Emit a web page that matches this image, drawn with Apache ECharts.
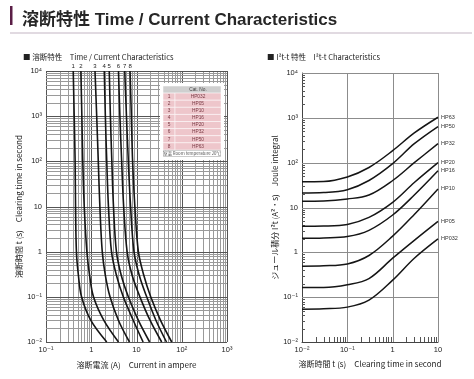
<!DOCTYPE html>
<html><head><meta charset="utf-8">
<script src="https://cdn.jsdelivr.net/npm/echarts@6/dist/echarts.min.js"></script>
<style>html,body{margin:0;padding:0;background:#fff}#c{width:474px;height:379px}</style>
</head><body><div id="c"></div>
<script>
const FONT = '"Liberation Sans", "DejaVu Sans", "Noto Sans CJK JP", sans-serif';
const JFONT = '"Noto Sans CJK JP", "Liberation Sans", sans-serif';

// ---- Left chart: Time / Current characteristics (current in A at each clearing time in s)
const tcTimes = [10000, 1000, 100, 10, 1, 0.3, 0.1, 0.03, 0.01];
const tcHP032 = [0.40, 0.42, 0.44, 0.45, 0.47, 0.52, 0.61, 0.98, 2.2];
const tcHP05  = [0.59, 0.62, 0.65, 0.70, 0.80, 0.92, 1.12, 1.9, 4.0];
const tcHP10  = [1.21, 1.32, 1.43, 1.55, 1.75, 2.05, 2.6, 4.0, 7.0];
const tcHP16  = [1.94, 2.05, 2.2, 2.4, 2.8, 3.6, 5.1, 8.5, 14];
const tcHP20  = [2.5, 2.65, 2.85, 3.1, 3.6, 4.6, 6.6, 11, 19.5];
const tcHP32  = [4.0, 4.3, 4.7, 5.2, 6.2, 8.0, 11.9, 20, 36];
const tcHP50  = [5.5, 6.0, 6.6, 7.4, 8.8, 11.5, 16.8, 27, 46];
const tcHP63  = [7.2, 7.7, 8.2, 9.2, 11, 14.5, 20.6, 34, 60];
const curveNumbers = ['1', '2', '3', '4', '5', '6', '7', '8'];
const catNos = ['HP032', 'HP05', 'HP10', 'HP16', 'HP20', 'HP32', 'HP50', 'HP63'];
const tcCurves = [tcHP032, tcHP05, tcHP10, tcHP16, tcHP20, tcHP32, tcHP50, tcHP63];

// ---- Right chart: I2t characteristics (A^2 s at each clearing time in s)
const i2tTimes = [0.01, 0.03, 0.1, 0.3, 1, 3, 10];
const i2tHP63  = [37.5, 38, 48, 78, 185, 460, 1030];
const i2tHP50  = [21, 21.5, 25, 40, 95, 265, 640];
const i2tHP32  = [13.8, 14, 15.5, 19, 40, 100, 265];
const i2tHP20  = [3.8, 3.85, 4.2, 6.0, 13, 36, 100];
const i2tHP16  = [2.05, 2.1, 2.25, 3.1, 6.8, 19, 66];
const i2tHP10  = [0.49, 0.5, 0.55, 0.85, 2.3, 7, 26];
const i2tHP05  = [0.164, 0.165, 0.19, 0.26, 0.74, 1.85, 4.9];
const i2tHP032 = [0.054, 0.055, 0.06, 0.086, 0.24, 0.74, 2.0];
const i2tNames = ['HP63', 'HP50', 'HP32', 'HP20', 'HP16', 'HP10', 'HP05', 'HP032'];
const i2tCurves = [i2tHP63, i2tHP50, i2tHP32, i2tHP20, i2tHP16, i2tHP10, i2tHP05, i2tHP032];

// ---- tick labels (by decade exponent)
const timeTickLabels = {'-2': '10⁻²', '-1': '10⁻¹', '0': '1', '1': '10', '2': '10²', '3': '10³', '4': '10⁴'};
const currentTickLabels = {'-1': '10⁻¹', '0': '1', '1': '10', '2': '10²', '3': '10³'};
const i2tTimeTickLabels = {'-2': '10⁻²', '-1': '10⁻¹', '0': '1', '1': '10'};
const minorFactors = [1, 2, 3, 4, 5, 6, 7, 8, 9];

function decadeValues(e0, e1) {
  const out = [];
  for (let e = e0; e < e1; e++) minorFactors.forEach(k => out.push(+(k * Math.pow(10, e)).toPrecision(6)));
  out.push(Math.pow(10, e1));
  return out;
}
function isDecade(v) { const l = Math.log10(v); return Math.abs(l - Math.round(l)) < 1e-6; }
function fmt(map) { return v => { const k = String(Math.round(Math.log10(v))); return map[k] !== undefined ? map[k] : ''; }; }

function gridLines(gi, values, dir, range, styleFn) {
  return {
    type: 'custom', xAxisIndex: gi, yAxisIndex: gi, silent: true, z: 1, clip: false,
    data: values.map(v => dir === 'v' ? [v, range[0]] : [range[0], v]),
    renderItem: function (params, api) {
      const v = dir === 'v' ? api.value(0) : api.value(1);
      const a = dir === 'v' ? api.coord([v, range[0]]) : api.coord([range[0], v]);
      const b = dir === 'v' ? api.coord([v, range[1]]) : api.coord([range[1], v]);
      const s = styleFn(v);
      let x1 = a[0], y1 = a[1], x2 = b[0], y2 = b[1];
      if (dir === 'v') { x1 = x2 = Math.round(x1) + 0.5; } else { y1 = y2 = Math.round(y1) + 0.5; }
      return {type: 'line', shape: {x1, y1, x2, y2}, style: {stroke: s.color, lineWidth: s.width}};
    }
  };
}
function tickMarks(gi, values, dir, base, len) {
  return {
    type: 'custom', xAxisIndex: gi, yAxisIndex: gi, silent: true, z: 3, clip: false,
    data: values.map(v => dir === 'x' ? [v, base] : [base, v]),
    renderItem: function (params, api) {
      const p = api.coord([api.value(0), api.value(1)]);
      if (dir === 'x') {
        const x = Math.round(p[0]) + 0.5;
        return {type: 'line', shape: {x1: x, y1: p[1], x2: x, y2: p[1] - len}, style: {stroke: '#555', lineWidth: 1}};
      }
      const y = Math.round(p[1]) + 0.5;
      return {type: 'line', shape: {x1: p[0], y1: y, x2: p[0] + len, y2: y}, style: {stroke: '#555', lineWidth: 1}};
    }
  };
}

const series = [];
// left grid
const leftStyle = v => isDecade(v) ? {color: '#555', width: 1} : {color: '#9a9a9a', width: 1};
series.push(gridLines(0, decadeValues(-1, 3), 'v', [0.01, 10000], leftStyle));
series.push(gridLines(0, decadeValues(-2, 4), 'h', [0.1, 1000], leftStyle));
// right grid (decades only)
const rightStyle = v => ({color: '#8c8c8c', width: 1});
series.push(gridLines(1, [0.1, 1, 10], 'v', [0.01, 10000], rightStyle));
series.push(gridLines(1, [0.1, 1, 10, 100, 1000, 10000], 'h', [0.01, 10], rightStyle));
series.push(tickMarks(1, decadeValues(-2, 1).filter(v => !isDecade(v)), 'x', 0.01, 5));
series.push(tickMarks(1, decadeValues(-2, 4).filter(v => !isDecade(v)), 'y', 0.01, 3));

tcCurves.forEach((cur, i) => {
  series.push({
    type: 'line', name: catNos[i], xAxisIndex: 0, yAxisIndex: 0, z: 5, clip: false,
    smooth: 0.35, symbol: 'circle', symbolSize: 0, showSymbol: true,
    lineStyle: {color: '#151515', width: 1.6},
    itemStyle: {color: '#151515'},
    label: {show: false},
    data: tcTimes.map((t, j) => j === 0
      ? {value: [cur[j], t], label: {show: true, formatter: curveNumbers[i], position: 'top', distance: 2, fontSize: 6, color: '#222', fontFamily: FONT}}
      : [cur[j], t])
  });
});
i2tCurves.forEach((vals, i) => {
  series.push({
    type: 'line', name: i2tNames[i], xAxisIndex: 1, yAxisIndex: 1, z: 5,
    smooth: 0.35, showSymbol: false,
    lineStyle: {color: '#151515', width: 1.5},
    endLabel: {show: true, formatter: '{a}', fontSize: 5.5, color: '#333', distance: 3, fontFamily: FONT},
    data: i2tTimes.map((t, j) => [t, vals[j]])
  });
});

const axLabel = {fontSize: 7.5, color: '#222', fontFamily: FONT};
const nameStyle = {fontSize: 8, color: '#222', fontFamily: JFONT};

// table graphic
const tbl = {x: 163, y: 86, w: 58, numW: 12, rowH: 7.1};
const graphic = [
  {type: 'rect', shape: {x: 10, y: 6, width: 2.5, height: 19}, style: {fill: '#5a1e46'}},
  {type: 'rect', shape: {x: 10, y: 32.5, width: 462, height: 1}, style: {fill: '#c4b6c3'}},
  {type: 'rect', z: 10, shape: {x: tbl.x - 3, y: tbl.y - 3, width: tbl.w + 6, height: tbl.rowH * 10 + 6}, style: {fill: '#fff'}},
  {type: 'rect', z: 11, shape: {x: tbl.x, y: tbl.y, width: tbl.w, height: tbl.rowH}, style: {fill: '#cfcfcf', stroke: '#fff', lineWidth: 0.5}},
  {type: 'text', z: 12, x: tbl.x + tbl.numW + (tbl.w - tbl.numW) / 2, y: tbl.y + tbl.rowH / 2, style: {text: 'Cat. No.', fontSize: 4.8, fill: '#444', align: 'center', verticalAlign: 'middle', fontFamily: FONT}}
];
catNos.forEach((n, i) => {
  const y = tbl.y + tbl.rowH * (i + 1);
  graphic.push({type: 'rect', z: 11, shape: {x: tbl.x, y: y, width: tbl.numW, height: tbl.rowH}, style: {fill: '#eec6cb', stroke: '#fff', lineWidth: 0.5}});
  graphic.push({type: 'rect', z: 11, shape: {x: tbl.x + tbl.numW, y: y, width: tbl.w - tbl.numW, height: tbl.rowH}, style: {fill: '#eec6cb', stroke: '#fff', lineWidth: 0.5}});
  graphic.push({type: 'text', z: 12, x: tbl.x + tbl.numW / 2, y: y + tbl.rowH / 2, style: {text: curveNumbers[i], fontSize: 4.8, fill: '#7a3b45', align: 'center', verticalAlign: 'middle', fontFamily: FONT}});
  graphic.push({type: 'text', z: 12, x: tbl.x + tbl.numW + (tbl.w - tbl.numW) / 2, y: y + tbl.rowH / 2, style: {text: n, fontSize: 4.8, fill: '#7a3b45', align: 'center', verticalAlign: 'middle', fontFamily: FONT}});
});
graphic.push({type: 'rect', z: 11, shape: {x: tbl.x + 0.5, y: tbl.y + tbl.rowH * 9 + 0.5, width: tbl.w - 1, height: tbl.rowH - 1}, style: {fill: '#fff', stroke: '#aaa', lineWidth: 0.6}});
graphic.push({type: 'text', z: 12, x: tbl.x + tbl.w / 2, y: tbl.y + tbl.rowH * 9.5, style: {text: '室温 Room temperature 20℃', fontSize: 4.3, fill: '#555', align: 'center', verticalAlign: 'middle', fontFamily: JFONT}});

const option = {
  animation: false,
  backgroundColor: '#fff',
  title: [
    {text: '溶断特性 Time / Current Characteristics', left: 17, top: 6, textStyle: {fontSize: 17, fontWeight: 'bold', color: '#262626', fontFamily: FONT, lineHeight: 18}},
    {text: '■ 溶断特性　Time / Current Characteristics', left: 18, top: 48, textStyle: {fontSize: 7.5, fontWeight: 'normal', color: '#222', fontFamily: JFONT}},
    {text: '■ I²t-t 特性　I²t-t Characteristics', left: 262, top: 48, textStyle: {fontSize: 7.5, fontWeight: 'normal', color: '#222', fontFamily: JFONT}}
  ],
  grid: [
    {left: 46, top: 71, width: 181, height: 271},
    {left: 302, top: 73, width: 136, height: 269}
  ],
  xAxis: [
    {type: 'log', gridIndex: 0, min: 0.1, max: 1000, axisLine: {show: false}, axisTick: {show: false}, splitLine: {show: false},
     axisLabel: Object.assign({formatter: fmt(currentTickLabels), margin: 4}, axLabel),
     name: '溶断電流 (A)　Current in ampere', nameLocation: 'middle', nameGap: 19, nameTextStyle: nameStyle},
    {type: 'log', gridIndex: 1, min: 0.01, max: 10, axisLine: {show: true, lineStyle: {color: '#444', width: 1}}, axisTick: {show: false}, splitLine: {show: false},
     axisLabel: Object.assign({formatter: fmt(i2tTimeTickLabels), margin: 4}, axLabel),
     name: '溶断時間 t (s)　Clearing time in second', nameLocation: 'middle', nameGap: 18, nameTextStyle: nameStyle}
  ],
  yAxis: [
    {type: 'log', gridIndex: 0, min: 0.01, max: 10000, axisLine: {show: false}, axisTick: {show: false}, splitLine: {show: false},
     axisLabel: Object.assign({formatter: fmt(timeTickLabels), margin: 4}, axLabel),
     name: '溶断時間 t (s)　Clearing time in second', nameLocation: 'middle', nameGap: 21, nameTextStyle: nameStyle},
    {type: 'log', gridIndex: 1, min: 0.01, max: 10000, axisLine: {show: true, lineStyle: {color: '#444', width: 1}}, axisTick: {show: false}, splitLine: {show: false},
     axisLabel: Object.assign({formatter: fmt(timeTickLabels), margin: 4}, axLabel),
     name: 'ジュール積分 I²t (A²・s)　Joule integral', nameLocation: 'middle', nameGap: 22, nameTextStyle: nameStyle}
  ],
  graphic: graphic,
  series: series
};
const chart = echarts.init(document.getElementById('c'), null, {renderer: 'canvas'});
chart.setOption(option);
</script>
</body></html>
